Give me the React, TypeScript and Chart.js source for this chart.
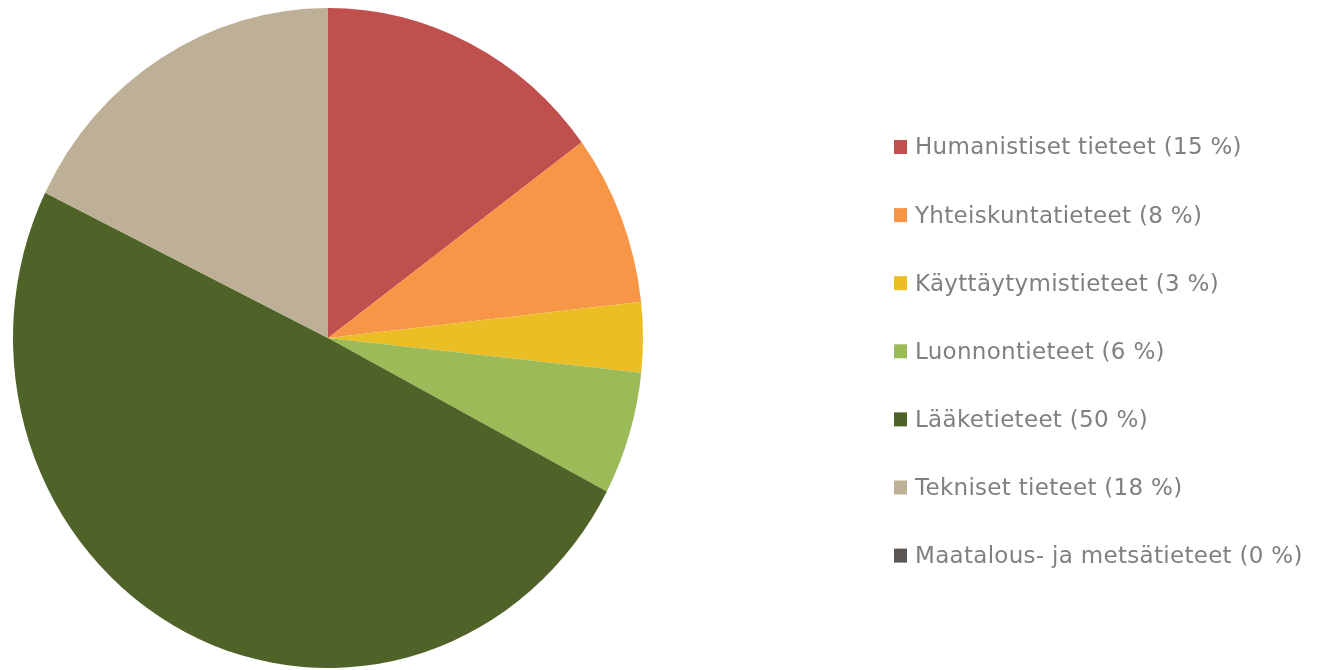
import React, { useEffect, useRef } from "react";
import { Chart, registerables } from "chart.js";

Chart.register(...registerables);

const categories = [
  "Humanistiset tieteet",
  "Yhteiskuntatieteet",
  "Käyttäytymistieteet",
  "Luonnontieteet",
  "Lääketieteet",
  "Tekniset tieteet",
  "Maatalous- ja metsätieteet",
];
const shares = [14.9, 8.35, 3.43, 6.02, 49.55, 17.75, 0];
const colors = ["#C0504D", "#F79646", "#EBBE26", "#9BBB59", "#4F6228", "#BDB096", "#5B5651"];

const labels = categories.map((c, i) => `${c} (${Math.round(shares[i])} %)`);

const ELLIPSE_Y = 330 / 315;

const ellipsePlugin = {
  id: "ellipse",
  beforeDatasetsDraw(chart: any) {
    const { ctx, chartArea } = chart;
    const cx = (chartArea.left + chartArea.right) / 2;
    const cy = (chartArea.top + chartArea.bottom) / 2;
    ctx.save();
    ctx.translate(cx, cy);
    ctx.scale(1, ELLIPSE_Y);
    ctx.translate(-cx, -cy);
  },
  afterDatasetsDraw(chart: any) {
    chart.ctx.restore();
  },
};

const legendPlugin = {
  id: "sideLegend",
  afterDraw(chart: any) {
    const { ctx } = chart;
    const lbls: string[] = chart.data.labels;
    const bg: string[] = chart.data.datasets[0].backgroundColor;
    ctx.save();
    ctx.font = '23px "DejaVu Sans", Verdana, sans-serif';
    ctx.textBaseline = "middle";
    ctx.textAlign = "left";
    try {
      (ctx as any).letterSpacing = "0.3px";
    } catch (e) {}
    lbls.forEach((t, i) => {
      const y = 147 + i * 68.1;
      ctx.fillStyle = bg[i];
      ctx.fillRect(894, y - 7, 13, 14);
      ctx.fillStyle = "#808080";
      ctx.fillText(t, 915, y + 1.5);
    });
    ctx.restore();
  },
};

export default function App() {
  const ref = useRef<HTMLCanvasElement>(null);
  useEffect(() => {
    if (!ref.current) return;
    const chart = new Chart(ref.current, {
      type: "pie",
      data: {
        labels,
        datasets: [
          {
            data: shares,
            backgroundColor: colors,
            borderWidth: 0,
          },
        ],
      },
      options: {
        animation: false,
        responsive: true,
        maintainAspectRatio: false,
        layout: { padding: { left: 13, right: 677, top: 23, bottom: 17 } },
        plugins: {
          legend: { display: false },
          tooltip: { enabled: false },
        },
      },
      plugins: [ellipsePlugin, legendPlugin],
    });
    return () => chart.destroy();
  }, []);
  return (
    <div style={{ position: "fixed", left: 0, top: 0, width: 1320, height: 670, background: "#fff" }}>
      <canvas ref={ref} />
    </div>
  );
}
